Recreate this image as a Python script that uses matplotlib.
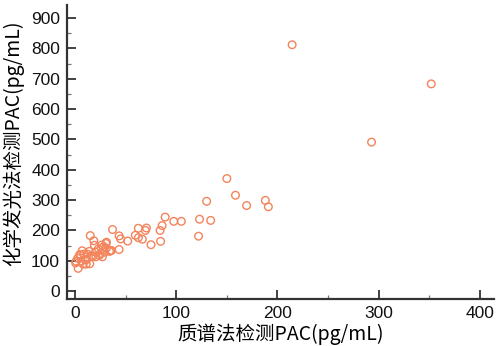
import matplotlib
matplotlib.use("Agg")
import matplotlib.pyplot as plt
from matplotlib.ticker import MultipleLocator

# Data
ms_pac = [214.5, 352, 293, 150, 158.5, 130, 169.5, 188, 191, 89, 86, 97.5, 105, 123, 134, 122, 84.5, 84,
          37, 70.5, 69.5, 62.5, 59.5, 62.5, 66.5, 75, 52, 43.5, 45, 43.5, 35, 30.5, 31, 26.5, 29, 27,
          15, 18.5, 19, 31, 28, 23, 25, 20.5, 20, 16, 12, 7, 5.5, 2.5, 0.5, 3, 6, 8, 11, 14.5, 11.5,
          34, 36, 1, 4.5, 9, 24, 17.5, 10, 14]
cl_pac = [812, 683, 491, 371, 316, 296, 282, 299, 278, 244, 216, 230, 230, 237, 233, 181, 164, 200,
          203, 208, 200, 207, 184, 176, 171, 153, 165, 182, 172, 137, 133, 157, 142, 152, 128, 113,
          183, 166, 151, 161, 146, 139, 124, 113, 129, 117, 122, 133, 119, 108, 93, 75, 99, 89, 89, 90, 104,
          131, 134, 98, 120, 122, 118, 115, 103, 131]
x_label = "质谱法检测PAC(pg/mL)"
y_label = "化学发光法检测PAC(pg/mL)"

W, H = 496, 346
fig = plt.figure(figsize=(W / 100, H / 100), dpi=100)
ax = fig.add_axes([67 / W, (H - 299) / H, (494 - 67) / W, (299 - 5) / H])

ax.scatter(ms_pac, cl_pac, s=30, facecolors="none", edgecolors="#F3845C", linewidths=1.0, zorder=3)

ax.set_xlim(-8, 414)
ax.set_ylim(-26, 943)
ax.xaxis.set_minor_locator(MultipleLocator(50))
ax.yaxis.set_minor_locator(MultipleLocator(50))
ax.set_xticks(range(0, 401, 100))
ax.set_yticks(range(0, 901, 100))

for side in ("top", "right"):
    ax.spines[side].set_visible(False)
for side in ("left", "bottom"):
    ax.spines[side].set_color("#333333")
    ax.spines[side].set_linewidth(1.6)

ax.tick_params(which="major", direction="in", length=6.5, width=1.3, color="#333333",
               labelsize=12.5, labelcolor="#111111", pad=5)
ax.tick_params(which="minor", direction="in", length=3, width=0.9, color="#777777")
for lab in ax.get_xticklabels() + ax.get_yticklabels():
    lab.set_family(["Liberation Sans", "DejaVu Sans"])

ax.set_xlabel(x_label, fontsize=14, family=["Noto Sans CJK SC", "DejaVu Sans"], labelpad=2)
ax.set_ylabel(y_label, fontsize=14, family=["Noto Sans CJK SC", "DejaVu Sans"])
ax.yaxis.set_label_coords(-0.1, 0.53)

fig.savefig("out.png", dpi=100)
